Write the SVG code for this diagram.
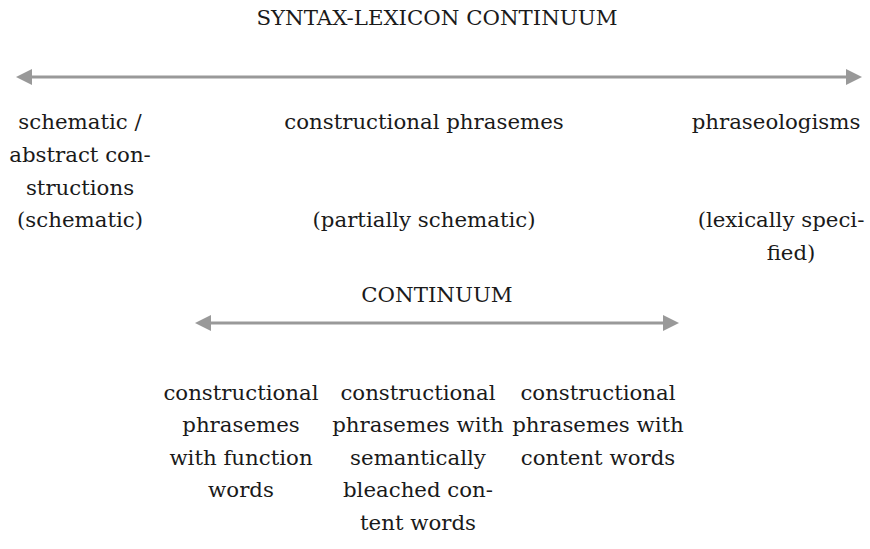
<svg xmlns="http://www.w3.org/2000/svg" width="870" height="549" viewBox="0 0 870 549">
<style>
text{font-family:"DejaVu Serif","Liberation Serif",serif;font-size:21.3px;fill:#1a1a1a;text-anchor:middle}
.ln{stroke:#999;stroke-width:3;fill:none}
.hd{fill:#999}
</style>
<rect width="870" height="549" fill="#fff"/>
<g id="title"><text x="437" y="25">SYNTAX-LEXICON CONTINUUM</text></g>
<g id="connectors">
<line class="ln" x1="30" y1="77" x2="848" y2="77"/>
<polygon class="hd" points="16,77 32,69 32,85"/>
<polygon class="hd" points="862,77 846,69 846,85"/>
<line class="ln" x1="209" y1="323" x2="665" y2="323"/>
<polygon class="hd" points="195,323 211,315 211,331"/>
<polygon class="hd" points="679,323 663,315 663,331"/>
</g>
<g id="schematic"><text x="80" y="129">schematic /</text><text x="80" y="162">abstract con-</text><text x="80" y="195">structions</text><text x="80" y="227">(schematic)</text></g>
<g id="constructional"><text x="424" y="129">constructional phrasemes</text><text x="424" y="227">(partially schematic)</text></g>
<g id="phraseologisms"><text x="776" y="129">phraseologisms</text><text x="781" y="227">(lexically speci-</text><text x="791" y="260">fied)</text></g>
<g id="continuum"><text x="437" y="302">CONTINUUM</text></g>
<g id="function"><text x="241" y="400">constructional</text><text x="241" y="432">phrasemes</text><text x="241" y="465">with function</text><text x="241" y="497">words</text></g>
<g id="bleached"><text x="418" y="400">constructional</text><text x="418" y="432">phrasemes with</text><text x="418" y="465">semantically</text><text x="418" y="497">bleached con-</text><text x="418" y="530">tent words</text></g>
<g id="content"><text x="598" y="400">constructional</text><text x="598" y="432">phrasemes with</text><text x="598" y="465">content words</text></g>
</svg>
